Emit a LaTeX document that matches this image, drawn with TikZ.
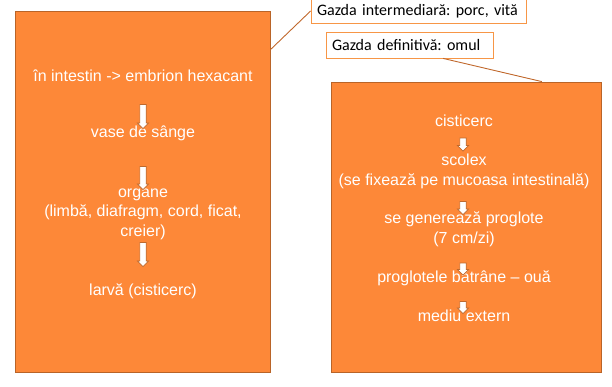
\documentclass[tikz,border=0pt]{standalone}
\usepackage{fontspec}
\setmainfont{Liberation Sans}
\newfontfamily\calloutfont{Carlito}
\usetikzlibrary{shapes.arrows,calc}
\definecolor{boxorange}{RGB}{253,136,56}
\definecolor{boxedge}{RGB}{185,100,40}
\definecolor{calledge}{RGB}{247,150,70}
\definecolor{leader}{RGB}{192,104,44}
\definecolor{arrowedge}{RGB}{190,105,45}
\frenchspacing
\begin{document}
\frenchspacing
\begin{tikzpicture}[x=1pt,y=-1pt,
  panel/.style={draw=boxedge,line width=0.8pt,fill=boxorange,rectangle,inner sep=0pt},
  intext/.style={anchor=base,text=white,inner sep=0pt,font=\fontsize{16}{19.5}\selectfont},
  callout/.style={draw=calledge,line width=0.8pt,fill=white,rectangle,inner xsep=6pt,inner ysep=0pt,align=left,font=\calloutfont\fontsize{16}{19.5}\selectfont},
  downarrow/.style={single arrow,draw=arrowedge,fill=white,line width=0.7pt,inner xsep=0pt,inner ysep=2.8pt,single arrow head extend=2.4pt,single arrow head indent=0pt,rotate=-90},
  leaderline/.style={draw=leader,line width=0.9pt}]
\useasboundingbox (0,0) rectangle (612,387);

% panels
\node[panel,minimum width=255pt,minimum height=361pt] (lbox) at (142.5,191.5) {};
\node[panel,minimum width=270pt,minimum height=290pt] (rbox) at (466,227) {};

% callouts
\node[callout,text width=203pt,minimum height=24pt] (c1) at (418.5,11) {\mbox{Gazda intermediară: porc, vită}};
\node[callout,text width=155pt,minimum height=26pt] (c2) at (409.5,45) {\mbox{Gazda definitivă: omul}};

\coordinate (l1a) at ($(lbox.north east)!0.108!(lbox.south east)$);
\coordinate (l2a) at ($(c2.south west)!0.7!(c2.south east)$);
\coordinate (l2b) at ($(rbox.north west)!0.78!(rbox.north east)$);
\draw[leaderline] (l1a) -- (c1.west);
\draw[leaderline] (l2a) -- (l2b);

% left panel text
\node[intext] (t1) at (143,81.5) {în intestin -> embrion hexacant};
\node[intext] (t2) at (143,138) {vase de sânge};
\node[intext] (t3a) at (143,197) {organe};
\node[intext] (t3b) at (143,216.7) {(limbă, diafragm, cord, ficat,};
\node[intext] (t3c) at (143,236.5) {creier)};
\node[intext] (t4) at (143,295) {larvă (cisticerc)};

\node[downarrow,minimum height=24pt] (a1) at (143,115) {};
\node[downarrow,minimum height=23pt] (a2) at (143,176.5) {};
\node[downarrow,minimum height=24pt] (a3) at (143,253) {};

% right panel text
\node[intext] (r1) at (464,126.7) {cisticerc};
\node[intext] (r2a) at (464,165.7) {scolex};
\node[intext] (r2b) at (464,185.7) {(se fixează pe mucoasa intestinală)};
\node[intext] (r3a) at (464,223.3) {se generează proglote};
\node[intext] (r3b) at (464,243.3) {(7 cm/zi)};
\node[intext] (r4) at (464,282.7) {proglotele bătrâne – ouă};
\node[intext] (r5) at (464,321) {mediu extern};

\node[downarrow,minimum height=13pt] (b1) at (463,143) {};
\node[downarrow,minimum height=13pt] (b2) at (463,206.5) {};
\node[downarrow,minimum height=12pt] (b3) at (463,267.5) {};
\node[downarrow,minimum height=12pt] (b4) at (463,306) {};
\end{tikzpicture}
\end{document}
